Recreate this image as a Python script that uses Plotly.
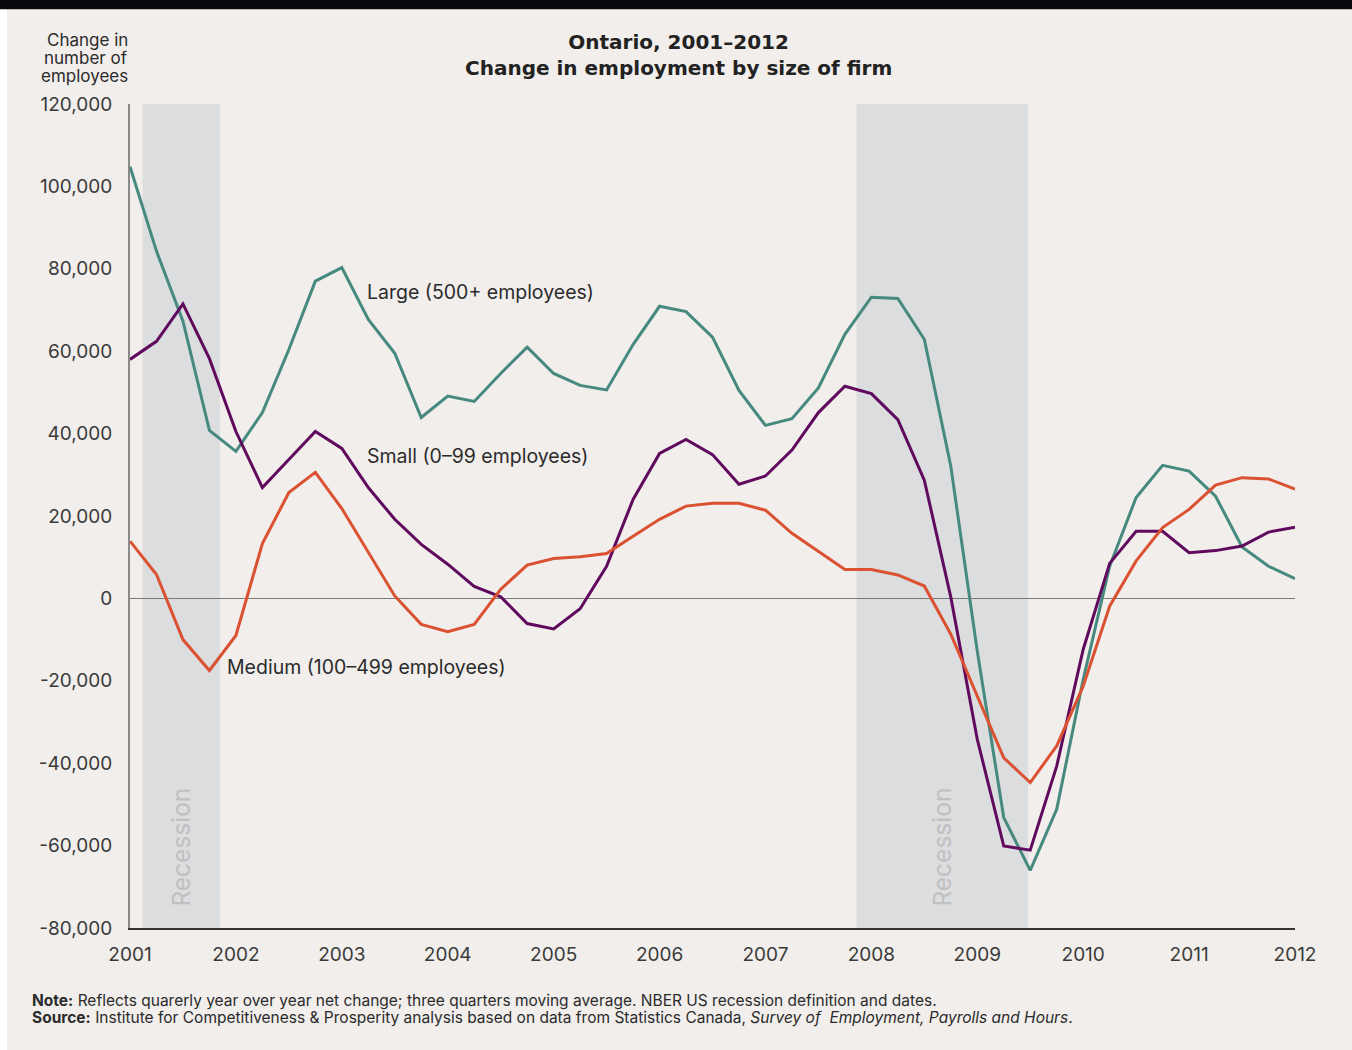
import plotly.graph_objects as go

# quarterly observations, 2001Q1 .. 2012Q1
quarters = [2001 + i / 4 for i in range(45)]

large = [104800, 84300, 67300, 40800, 35700, 45100, 60400, 77000, 80300, 67700,
         59500, 43900, 49100, 47800, 54600, 61000, 54600, 51700, 50600, 61600,
         70900, 69600, 63400, 50500, 42000, 43600, 51100, 64100, 73100, 72800,
         62900, 32100, -12800, -53200, -66000, -51200, -19700, 7800, 24500, 32300,
         30900, 24800, 12500, 7800, 4800]
small = [58000, 62400, 71500, 58200, 40500, 26900, 33700, 40500, 36400, 26900,
         19200, 13100, 8300, 2900, 400, -6100, -7400, -2500, 7800, 24000,
         35200, 38600, 34900, 27700, 29700, 36000, 45100, 51500, 49700, 43400,
         28700, 300, -34200, -60100, -61100, -40700, -12400, 8500, 16300, 16300,
         11100, 11600, 12700, 16100, 17300]
medium = [13900, 5800, -10000, -17500, -9000, 13300, 25700, 30600, 21800, 11200,
          600, -6300, -8100, -6300, 2200, 8100, 9700, 10100, 10900, 15100,
          19200, 22400, 23100, 23100, 21400, 15800, 11500, 7000, 7000, 5700,
          3000, -8700, -23700, -38700, -44700, -35800, -21300, -1900, 9100, 17200,
          21600, 27500, 29300, 29000, 26500]

recessions = [(2001.12, 2001.85), (2007.86, 2009.48)]

y_ticks = [120000, 100000, 80000, 60000, 40000, 20000, 0, -20000, -40000, -60000, -80000]
y_labels = ["120,000", "100,000", "80,000", "60,000", "40,000", "20,000", "0",
            "-20,000", "-40,000", "-60,000", "-80,000"]
years = list(range(2001, 2013))
axis_title = ["Change in", "number of", "employees"]
footer = [
    "<b>Note:</b> Reflects quarerly year over year net change; three quarters moving average. "
    "NBER US recession definition and dates.",
    "<b>Source:</b> Institute for Competitiveness & Prosperity analysis based on data from "
    "Statistics Canada, <i>Survey of  Employment, Payrolls and Hours</i>.",
]

BG = "#F1EEEB"
TEXT = "#2B2B2B"
FONT = "Inter"

series = [
    ("Large (500+ employees)", large, "#46897F", 2003.22, 74300),
    ("Small (0–99 employees)", small, "#600A5E", 2003.22, 34500),
    ("Medium (100–499 employees)", medium, "#DA5232", 2001.9, -16700),
]

fig = go.Figure()

for name, values, color, lx, ly in series:
    fig.add_trace(go.Scatter(
        x=quarters, y=values, mode="lines", name=name,
        line=dict(color=color, width=3),
        showlegend=False,
    ))
    fig.add_annotation(x=lx, y=ly, text=name, showarrow=False, xanchor="left",
                       font=dict(family=FONT, size=19.5, color=TEXT))

shapes = [
    # page background with thin white margin at the left, black strip on top
    dict(type="rect", xref="paper", yref="paper", x0=-0.1056, x1=1.06, y0=-0.16, y1=1.115,
         fillcolor=BG, line_width=0, layer="below"),
    dict(type="rect", xref="paper", yref="paper", x0=-0.12, x1=1.06, y0=1.115, y1=1.14,
         fillcolor="#0A0A0E", line_width=0, layer="below"),
]
for x0, x1 in recessions:
    shapes.append(dict(type="rect", xref="x", yref="paper", x0=x0, x1=x1, y0=0, y1=1,
                       fillcolor="#DCDDDF", line_width=0, layer="below"))
    fig.add_annotation(x=(x0 + x1) / 2, y=-60400, text="Recession", textangle=-90,
                       showarrow=False, font=dict(family=FONT, size=24.5, color="#C0C0C0"))

for k, line in enumerate(axis_title):
    fig.add_annotation(xref="paper", yref="paper", x=0.0, y=1.0771 - k * 0.0218,
                       xanchor="right", yanchor="middle", showarrow=False, text=line,
                       font=dict(family=FONT, size=17, color=TEXT))

fig.add_annotation(xref="paper", yref="paper", x=0.471, y=1.0925, yanchor="top", showarrow=False,
                   text="<b>Ontario, 2001–2012<br>Change in employment by size of firm</b>",
                   font=dict(family="DejaVu Sans", size=20, color="#222222"))

for k, line in enumerate(footer):
    fig.add_annotation(xref="paper", yref="paper", x=-0.086, y=-0.0874 - k * 0.0218,
                       xanchor="left", yanchor="middle", align="left", showarrow=False,
                       text=line, font=dict(family=FONT, size=15.5, color=TEXT))

fig.update_layout(
    width=1352, height=1050,
    margin=dict(l=130, r=57, t=104, b=122),
    paper_bgcolor="white",
    plot_bgcolor=BG,
    shapes=shapes,
    xaxis=dict(
        range=[2001, 2012], tickvals=years, ticktext=[str(y) for y in years],
        showgrid=False, zeroline=False, showline=True, linecolor="#333333", linewidth=1.5,
        ticks="", ticklabelstandoff=8,
        tickfont=dict(family=FONT, size=19, color="#3A3A3A"),
    ),
    yaxis=dict(
        range=[-80000, 120000], tickvals=y_ticks, ticktext=y_labels,
        showgrid=False, zeroline=True, zerolinecolor="#7A7A7A", zerolinewidth=1.2,
        showline=True, linecolor="#8A8A8A", linewidth=2,
        ticks="", ticklabelstandoff=12,
        tickfont=dict(family=FONT, size=19, color="#3A3A3A"),
    ),
)

fig.write_html("out.html", config={"displayModeBar": False},
               post_script="document.body.style.margin='0';")
